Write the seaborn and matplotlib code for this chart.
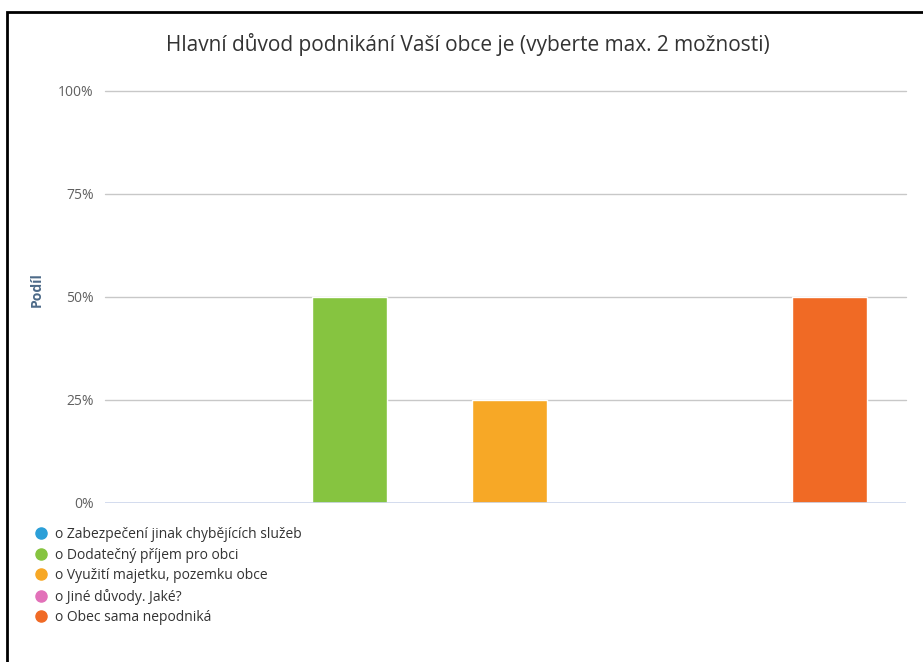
import matplotlib
matplotlib.use("Agg")
import matplotlib.pyplot as plt
from matplotlib.lines import Line2D
from matplotlib.patches import Rectangle
import pandas as pd
import seaborn as sns

# data
categories = [
    "o Zabezpečení jinak chybějících služeb",
    "o Dodatečný příjem pro obci",
    "o Využití majetku, pozemku obce",
    "o Jiné důvody. Jaké?",
    "o Obec sama nepodniká",
]
shares = [0, 50, 25, 0, 50]
colors = ["#2b9fd8", "#86c440", "#f7a826", "#e271b9", "#f06a25"]
y_ticks = [0, 25, 50, 75, 100]
y_tick_labels = ["0%", "25%", "50%", "75%", "100%"]

df = pd.DataFrame({"category": categories, "share": shares})

sns.set_style("white")
plt.rcParams["font.family"] = ["Open Sans", "DejaVu Sans"]

fig = plt.figure(figsize=(9.23, 6.62), dpi=100)
ax = fig.add_axes([105 / 923, 1 - 503 / 662, (906 - 105) / 923, (503 - 91) / 662])

sns.barplot(data=df, x="category", y="share", hue="category",
            palette=colors, width=0.47, legend=False, ax=ax, saturation=1)

ax.set_xlim(-0.532, 4.48)
ax.set_ylim(0, 100)
ax.set_yticks(y_ticks)
ax.set_yticklabels(y_tick_labels, color="#606060", fontsize=10)
ax.tick_params(axis="y", length=0, pad=8)
ax.set_xticks(range(len(categories)))
ax.set_xticklabels([])
ax.tick_params(axis="x", length=5, color="#ccd6eb", width=1)

for y in y_ticks[1:]:
    ax.axhline(y, color="#c8c8c8", lw=1, zorder=0, clip_on=False)
ax.axhline(0, color="#ccd6eb", lw=1.2, zorder=3)
sns.despine(ax=ax, left=True, bottom=True, top=True, right=True)

ax.set_xlabel("")
ax.set_ylabel("Podíl", fontsize=10, fontweight="bold", color="#4d6a88")
ax.yaxis.set_label_coords(-0.076, 0.519)

fig.text(468 / 923, 1 - 45 / 662, "Hlavní důvod podnikání Vaší obce je (vyberte max. 2 možnosti)",
         ha="center", va="center", fontsize=15, color="#333333")

handles = [Line2D([], [], marker="o", linestyle="", markersize=8,
                  markerfacecolor=c, markeredgecolor=c) for c in colors]
fig.legend(handles, categories, loc="upper left", bbox_to_anchor=(33 / 923, 1 - 527 / 662),
           frameon=False, fontsize=10, labelcolor="#333333", handletextpad=0.35,
           handlelength=1.2, labelspacing=0.4, borderpad=0, borderaxespad=0)

# black frame around the screenshot
fig.patches.append(Rectangle((7 / 923, -0.05), 1.0, 1.05 - 12 / 662,
                             transform=fig.transFigure, fill=False, edgecolor="black",
                             linewidth=2))

fig.savefig("out.png", dpi=100)
